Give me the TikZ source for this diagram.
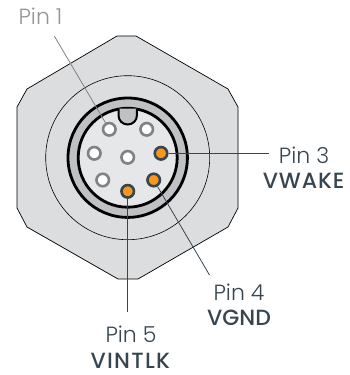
\documentclass[tikz,border=0pt]{standalone}
\usepackage{fontspec}
\setmainfont{Poppins Light}[BoldFont={Poppins Medium}]
\definecolor{bodygray}{HTML}{DCDDDE}
\definecolor{ringgray}{HTML}{BFC1C4}
\definecolor{facegray}{HTML}{E6E7E8}
\definecolor{pingray}{HTML}{808285}
\definecolor{pindark}{HTML}{36454F}
\definecolor{pinorange}{HTML}{F7981D}
\definecolor{labelgray}{HTML}{939598}
\begin{document}
\begin{tikzpicture}[x=1pt,y=-1pt]
      \useasboundingbox (0,0) rectangle (349,375);

      % connector body
      \draw[fill=bodygray,line width=.7pt] (117,36) -- (136,36) -- (228,89) -- (238,107) -- (238,208)
        -- (228,227) -- (138,279) -- (118,279) -- (27,227) -- (17,208) -- (17,107) -- (27,89) -- cycle;
      \draw[line width=.6pt] (127.7,157.7) circle (82);
      \draw[fill=ringgray,line width=2.8pt] (127.7,157.7) circle (59.7);
      \draw[fill=facegray,line width=2.8pt] (127.7,157.7) circle (49.5);
      \draw[fill=ringgray,line width=2pt] (118.5,108.5) -- (118.5,115.5) arc (180:0:9.2 and 9) -- (136.9,108.5);

      \begin{scope}[every node/.style={circle,draw,inner sep=0pt,minimum size=12.5pt,line width=2.6pt}]
        \node[draw=pingray,fill=white] (1) at (109.3,129.3) {};
        \node[draw=pingray,fill=white] (2) at (146.7,129.3) {};
        \node[draw=pingray,fill=white] (6) at (94.3,153.3) {};
        \node[draw=pingray,fill=white] (7) at (127.7,157.3) {};
        \node[draw=pingray,fill=white] (8) at (102.7,180) {};
        \node[draw=pindark,fill=pinorange] (3) at (161,153.3) {};
        \node[draw=pindark,fill=pinorange] (4) at (153.7,180) {};
        \node[draw=pindark,fill=pinorange] (5) at (127.7,191.3) {};
      \end{scope}

      \coordinate (end1) at (54.3,36);
      \coordinate (end3) at (269,153.3);
      \coordinate (end4) at (209.5,275);
      \coordinate (end5) at (127.7,312);

      \begin{scope}[every edge/.style={draw,line width=.8pt}]
        \path (1) edge[pingray] (end1);
        \path (3) edge[pindark] (end3);
        \path (4) edge[pindark] (end4);
        \path (5) edge[pindark] (end5);
      \end{scope}

      \begin{scope}[every node/.style={font=\fontsize{22}{24}\selectfont,text=pindark,inner sep=0pt}]
        \node[text=labelgray] (label1) at (40.5,16) {Pin 1};
        \node (label3) at (304,155) {Pin 3};
        \node (name3) at (304,181) {\addfontfeatures{LetterSpace=4}\textbf{VWAKE}};
        \node (label4) at (239,292) {Pin 4};
        \node (name4) at (239,318) {\textbf{VGND}};
        \node (label5) at (131,334) {Pin 5};
        \node (name5) at (131,361) {\addfontfeatures{LetterSpace=6}\textbf{VINTLK}};
      \end{scope}

    \end{tikzpicture}
\end{document}
